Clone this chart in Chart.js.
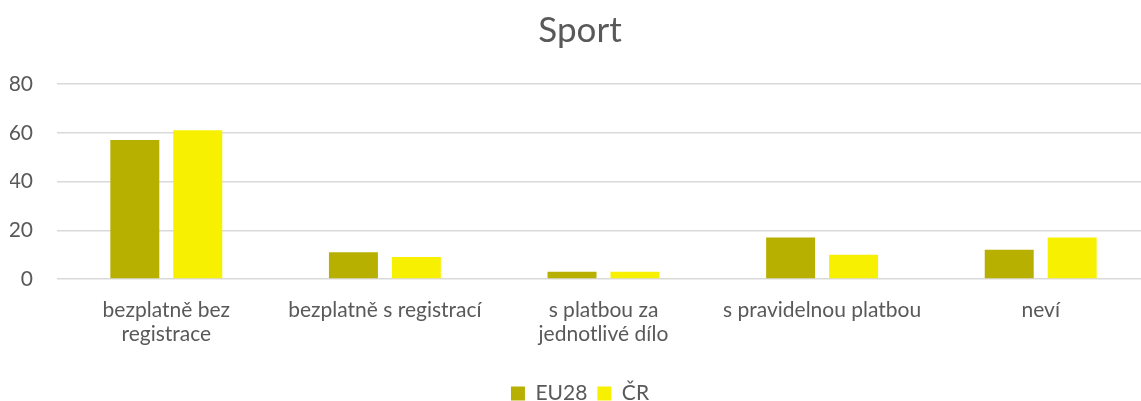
<!DOCTYPE html>
<html>
<head>
<meta charset="utf-8">
<script src="https://cdn.jsdelivr.net/npm/chart.js@4"></script>
<style>
  html, body { margin: 0; padding: 0; background: #fff; overflow: hidden; }
  #wrap { width: 1150px; height: 401px; position: relative; }
</style>
</head>
<body>
<div id="wrap"><canvas id="sportChart"></canvas></div>
<script>
// chart data
const categories = [
    ['bezplatně bez', 'registrace'],
    'bezplatně s registrací',
    ['s platbou za', 'jednotlivé dílo'],
    's pravidelnou platbou',
    'neví'
];
const eu28 = [57, 11, 3, 17, 12];
const cr = [61, 9, 3, 10, 17];
const yTicks = [0, 20, 40, 60, 80];

const textColor = '#595959';
const fontFamily = 'Lato, "Open Sans", sans-serif';

const ctx = document.getElementById('sportChart').getContext('2d');
const chart = new Chart(ctx, {
    type: 'bar',
    data: {
        labels: categories,
        datasets: [
            {
                label: 'EU28',
                data: eu28,
                backgroundColor: '#b8b000',
                borderWidth: 0
            },
            {
                label: 'ČR',
                data: cr,
                backgroundColor: '#f7f000',
                borderWidth: 0
            }
        ]
    },
    options: {
        responsive: true,
        maintainAspectRatio: false,
        animation: false,
        layout: {
            padding: { left: 10, right: 0, top: 8, bottom: -13 }
        },
        datasets: {
            bar: {
                categoryPercentage: 0.576,
                barPercentage: 0.778
            }
        },
        plugins: {
            title: {
                display: true,
                text: 'Sport',
                color: textColor,
                font: { family: fontFamily, size: 35, weight: 'normal' },
                padding: { top: 2, bottom: 32 }
            },
            legend: {
                position: 'bottom',
                labels: {
                    color: textColor,
                    font: { family: fontFamily, size: 21 },
                    boxWidth: 14,
                    boxHeight: 14,
                    padding: 10
                }
            },
            tooltip: { enabled: false }
        },
        scales: {
            x: {
                grid: { display: false },
                border: { display: false },
                ticks: {
                    color: textColor,
                    font: { family: fontFamily, size: 21, lineHeight: 1.15 },
                    maxRotation: 0,
                    autoSkip: false,
                    padding: 11
                },
                afterFit: axis => {
                    axis.paddingLeft = 0;
                    axis.paddingRight = 0;
                    axis.height = 94;
                }
            },
            y: {
                min: 0,
                max: 80,
                afterBuildTicks: axis => {
                    axis.ticks = yTicks.map(v => ({ value: v }));
                },
                afterFit: axis => {
                    axis.width = 47;
                },
                grid: { color: '#d9d9d9', lineWidth: 1.5, drawTicks: false },
                border: { display: false },
                ticks: {
                    color: textColor,
                    font: { family: fontFamily, size: 21 },
                    padding: 24
                }
            }
        }
    }
});
</script>
</body>
</html>
